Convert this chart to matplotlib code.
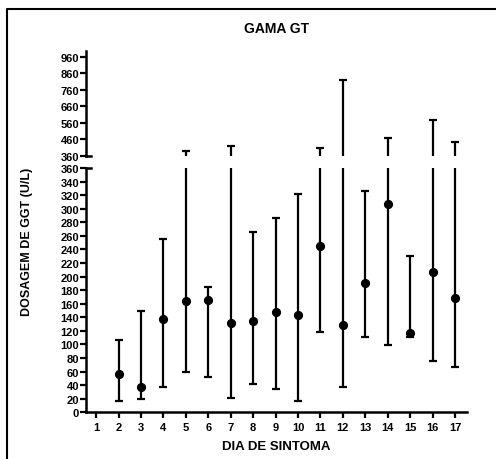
import matplotlib.pyplot as plt
from matplotlib.lines import Line2D
import numpy as np

# -----------------------Data-----------------------
days = [2, 3, 4, 5, 6, 7, 8, 9, 10, 11, 12, 13, 14, 15, 16, 17]
mean_ggt = [57, 38, 137, 164, 166, 132, 134, 148, 143, 245, 128, 190, 307, 117, 207, 168]
low_ggt = [17, 19, 37, 59, 52, 21, 41, 34, 17, 118, 38, 111, 99, 111, 76, 67]
high_ggt = [106, 150, 256, 386, 184, 420, 266, 287, 322, 408, 818, 326, 469, 231, 576, 441]
x_ticks = list(range(1, 18))
y_ticks_low = list(range(0, 361, 20))
y_ticks_high = list(range(360, 961, 100))

# -----------------------Fig configuration-----------------------
plt.rcParams['font.family'] = 'Liberation Sans'
plt.rcParams['font.weight'] = 'bold'
black = '#000000'
W, H = 496, 460
fig = plt.figure(figsize=(W / 100, H / 100), dpi=100)

left, right = 86 / W, 466.7 / W
ax_low = fig.add_axes([left, 1 - 413.3 / H, right - left, (413.3 - 169) / H])
ax_high = fig.add_axes([left, 1 - 156.7 / H, right - left, (156.7 - 51.7) / H])

mean_arr = np.array(mean_ggt)
yerr = [mean_arr - np.array(low_ggt), np.array(high_ggt) - mean_arr]

for ax in (ax_low, ax_high):
    ax.errorbar(days, mean_ggt, yerr=yerr, fmt='o', color=black, ecolor=black,
                elinewidth=1.6, capsize=3, capthick=1.6, markersize=5.6)
    ax.set_xlim(0.55, 17.52)
    for s in ('top', 'right'):
        ax.spines[s].set_visible(False)
    ax.spines['left'].set_linewidth(1.8)
    ax.spines['bottom'].set_linewidth(1.8)
    ax.tick_params(axis='both', direction='out', length=4, width=1.6,
                   labelsize=8, pad=1)

ax_low.set_ylim(0, 360)
ax_low.set_yticks(y_ticks_low)
ax_low.set_xticks(x_ticks)
ax_low.set_xticklabels([str(d) for d in x_ticks])
ax_low.tick_params(axis='x', pad=3)
ax_low.axhline(360, xmin=0, xmax=0.012, color=black, linewidth=1.8, clip_on=False)

ax_high.set_ylim(360, 996)
ax_high.set_yticks(y_ticks_high)
ax_high.spines['bottom'].set_visible(False)
ax_high.set_xticks([])
ax_high.axhline(360, xmin=0, xmax=0.012, color=black, linewidth=1.8, clip_on=False)

for lab in ax_low.get_xticklabels() + ax_low.get_yticklabels() + ax_high.get_yticklabels():
    lab.set_fontweight('bold')

fig.text(276 / W, 1 - 29 / H, 'GAMA GT', ha='center', va='center',
         fontsize=10, fontweight='bold')
fig.text(276 / W, 1 - 447 / H, 'DIA DE SINTOMA', ha='center', va='center',
         fontsize=9.5, fontweight='bold')
fig.text(27 / W, 1 - 242 / H, 'DOSAGEM DE GGT (U/L)', ha='center', va='center',
         rotation=90, fontsize=9, fontweight='bold')

# outer frame (top and left only)
fig.add_artist(Line2D([7 / W, 7 / W, 1], [0, 1 - 10 / H, 1 - 10 / H],
                      transform=fig.transFigure, color=black, linewidth=1.5))

plt.savefig('out.png', dpi=100)
